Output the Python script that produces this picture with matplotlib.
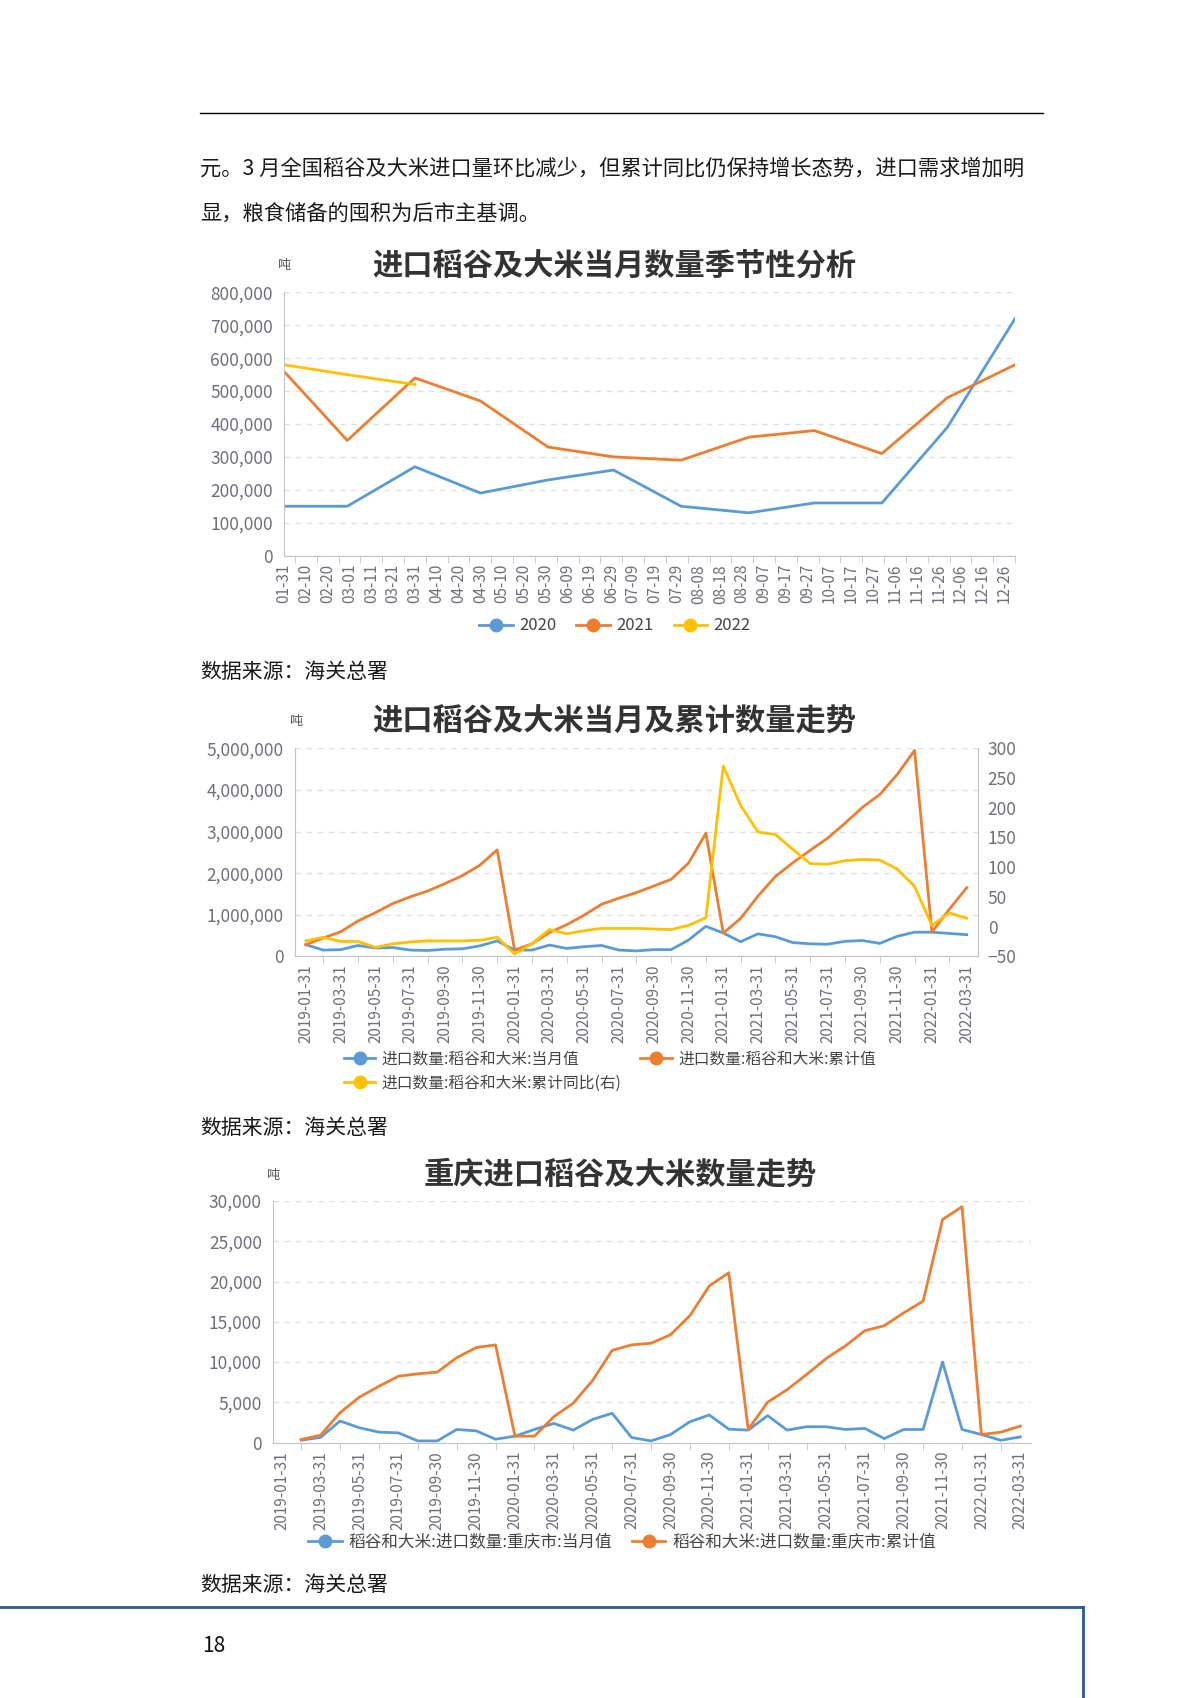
import numpy as np
import pandas as pd
import matplotlib
matplotlib.use('Agg')
import matplotlib.pyplot as plt
import matplotlib.dates as mdates
from matplotlib.lines import Line2D
from matplotlib.ticker import FuncFormatter, MultipleLocator

plt.rcParams['font.family'] = ['Noto Sans CJK SC', 'DejaVu Sans']

W, H = 1200, 1698
BLUE, ORANGE, YELLOW = '#5B9BD5', '#ED7D31', '#FFC000'
GRAY_TXT = '#6e7079'
AXIS_C = '#c4c4c4'
GRID_C = '#e0e0e0'

# ---- chart 1: 当月数量季节性 (吨), month-end values
s_2020 = [150000, 150000, 270000, 190000, 230000, 260000, 150000, 130000, 160000, 160000, 390000, 720000]
s_2021 = [560000, 350000, 540000, 470000, 330000, 300000, 290000, 360000, 380000, 310000, 480000, 580000]
s_2022 = [580000, 550000, 520000]
season_names = ['2020', '2021', '2022']

# ---- chart 2: 全国 当月 / 累计 / 累计同比
nat_month = [280000, 150000, 160000, 260000, 200000, 210000, 150000, 140000, 170000, 180000, 250000, 370000,
             150000, 150000, 270000, 190000, 230000, 260000, 150000, 130000, 160000, 160000, 390000, 720000,
             560000, 350000, 540000, 470000, 330000, 300000, 290000, 360000, 380000, 310000, 480000, 580000,
             580000, 550000, 520000]
nat_cum = [280000, 440000, 590000, 850000, 1050000, 1270000, 1430000, 1570000, 1750000, 1940000, 2190000, 2560000,
           150000, 300000, 570000, 760000, 990000, 1250000, 1400000, 1530000, 1690000, 1850000, 2240000, 2960000,
           560000, 910000, 1450000, 1920000, 2250000, 2550000, 2840000, 3200000, 3580000, 3890000, 4370000, 4950000,
           580000, 1130000, 1650000]
nat_yoy = [-24, -18, -25, -25, -35, -29, -26, -24, -24, -24, -23, -18,
           -46, -29, -5, -12, -7, -3, -3, -3, -4, -5, 2, 15,
           270, 204, 159, 155, 130, 106, 105, 111, 113, 112, 97, 68,
           2, 23, 14]
nat_names = ['进口数量:稻谷和大米:当月值', '进口数量:稻谷和大米:累计值', '进口数量:稻谷和大米:累计同比(右)']

# ---- chart 3: 重庆 当月 / 累计
cq_month = [np.nan, 300, 650, 2680, 1840, 1300, 1210, 210, 210, 1630, 1460, 420,
            800, 1630, 2380, 1550, 2890, 3640, 630, 210, 1000, 2590, 3430, 1670,
            1550, 3350, 1550, 1970, 1970, 1630, 1760, 500, 1630, 1630, 10000, 1630,
            1000, 290, 710]
cq_cum = [np.nan, 380, 920, 3720, 5650, 6990, 8240, 8540, 8750, 10540, 11800, 12130,
          800, 800, 3220, 4900, 7740, 11460, 12130, 12340, 13390, 15770, 19460, 21090,
          1630, 5020, 6570, 8450, 10420, 12010, 13890, 14520, 16110, 17570, 27700, 29290,
          1000, 1300, 2050]
cq_names = ['稻谷和大米:进口数量:重庆市:当月值', '稻谷和大米:进口数量:重庆市:累计值']

months = pd.date_range('2019-01-31', periods=39, freq=pd.offsets.MonthEnd())
month_labels = [d.strftime('%Y-%m-%d') for d in months]

fig = plt.figure(figsize=(W / 100, H / 100), dpi=100)


def add_ax(x0, y0, x1, y1):
    return fig.add_axes([x0 / W, 1 - y1 / H, (x1 - x0) / W, (y1 - y0) / H])


def ftext(x, y, s, **kw):
    fig.text(x / W, 1 - y / H, s, **kw)


def hline(x0, x1, y, **kw):
    fig.add_artist(Line2D([x0 / W, x1 / W], [1 - y / H, 1 - y / H], **kw))


def style(ax):
    for s in ['top', 'right']:
        ax.spines[s].set_visible(False)
    ax.spines['left'].set_color(AXIS_C)
    ax.spines['bottom'].set_color(AXIS_C)
    ax.yaxis.grid(True, ls=(0, (4, 4)), color=GRID_C, lw=1)
    ax.set_axisbelow(True)
    ax.yaxis.set_major_formatter(FuncFormatter(lambda v, p: f'{v:,.0f}'))
    ax.tick_params(axis='y', length=0, pad=8, labelsize=12.5, labelcolor=GRAY_TXT)
    ax.tick_params(axis='x', which='major', length=0, pad=6, labelsize=11, labelcolor=GRAY_TXT)
    ax.tick_params(axis='x', which='minor', length=5, color=AXIS_C)


def legend(handles, labels, cx, cy, ncol, fs=12):
    fig.legend(handles, labels, loc='center', bbox_to_anchor=(cx / W, 1 - cy / H), ncol=ncol,
               frameon=False, fontsize=fs, labelcolor='#444444', handlelength=2.0,
               handletextpad=0.4, columnspacing=1.2, labelspacing=0.45)


def handle(c):
    return Line2D([], [], color=c, lw=2, marker='o', markersize=9)


# page header / body text
hline(200, 1043, 112.6, color='black', lw=1)
ftext(200, 169, '元。3 月全国稻谷及大米进口量环比减少，但累计同比仍保持增长态势，进口需求增加明',
      fontsize=15.3, color='#1a1a1a', va='center')
ftext(200, 214.5, '显，粮食储备的囤积为后市主基调。', fontsize=15.3, color='#1a1a1a', va='center')

# ---------------- chart 1
ax1 = add_ax(284, 292.4, 1015, 555.6)
d1 = mdates.date2num(pd.date_range('2020-01-31', periods=12, freq=pd.offsets.MonthEnd()).to_pydatetime())
ax1.plot(d1, s_2020, color=BLUE, lw=2)
ax1.plot(d1, s_2021, color=ORANGE, lw=2)
ax1.plot(d1[:len(s_2022)], s_2022, color=YELLOW, lw=2)
ticks1 = pd.date_range('2020-01-31', periods=34, freq='10D')
t1 = mdates.date2num(ticks1.to_pydatetime())
ax1.set_xlim(d1[0], d1[-1])
ax1.set_ylim(0, 800000)
ax1.yaxis.set_major_locator(MultipleLocator(100000))
ax1.set_xticks(t1)
ax1.set_xticklabels([d.strftime('%m-%d') for d in ticks1], rotation=90)
ax1.set_xticks(t1 + 5, minor=True)
style(ax1)
ftext(614, 266, '进口稻谷及大米当月数量季节性分析', fontsize=21.8, fontweight='bold', color='#333333',
      ha='center', va='center')
ftext(284, 266, '吨', fontsize=9.5, color='#555555', ha='center', va='center')
legend([handle(BLUE), handle(ORANGE), handle(YELLOW)], season_names, 615, 626, 3, fs=12)
ftext(200, 671.5, '数据来源：海关总署', fontsize=15, color='#1a1a1a', va='center')

# ---------------- chart 2
x = np.arange(len(months))
ax2 = add_ax(294.6, 748.4, 978, 956.3)
ax2.plot(x, nat_month, color=BLUE, lw=2)
ax2.plot(x, nat_cum, color=ORANGE, lw=2)
ax2.set_xlim(-0.65, len(months) - 0.35)
ax2.set_ylim(0, 5000000)
ax2.yaxis.set_major_locator(MultipleLocator(1000000))
ax2.set_xticks(x[::2])
ax2.set_xticklabels(month_labels[::2], rotation=90)
ax2.set_xticks(x[1::2], minor=True)
style(ax2)
ax2r = ax2.twinx()
ax2r.plot(x, nat_yoy, color=YELLOW, lw=2)
ax2r.set_ylim(-50, 300)
ax2r.yaxis.set_major_locator(MultipleLocator(50))
for s in ['top', 'left', 'bottom']:
    ax2r.spines[s].set_visible(False)
ax2r.spines['right'].set_color(AXIS_C)
ax2r.tick_params(axis='y', length=0, pad=7, labelsize=12.5, labelcolor=GRAY_TXT)
ftext(614, 722, '进口稻谷及大米当月及累计数量走势', fontsize=21.8, fontweight='bold', color='#333333',
      ha='center', va='center')
ftext(296, 722, '吨', fontsize=9.5, color='#555555', ha='center', va='center')
legend([handle(BLUE), handle(YELLOW), handle(ORANGE)], [nat_names[0], nat_names[2], nat_names[1]],
       610, 1071, 2, fs=11.3)
ftext(200, 1127.5, '数据来源：海关总署', fontsize=15, color='#1a1a1a', va='center')

# ---------------- chart 3
ax3 = add_ax(273, 1201, 1031, 1442.6)
ax3.plot(x, cq_month, color=BLUE, lw=2)
ax3.plot(x, cq_cum, color=ORANGE, lw=2)
ax3.set_xlim(-0.45, len(months) - 0.45)
ax3.set_ylim(0, 30000)
ax3.yaxis.set_major_locator(MultipleLocator(5000))
ax3.set_xticks(x[::2])
ax3.set_xticklabels(month_labels[::2], rotation=90)
ax3.set_xticks(x[1::2], minor=True)
style(ax3)
ftext(620, 1175, '重庆进口稻谷及大米数量走势', fontsize=21.8, fontweight='bold', color='#333333',
      ha='center', va='center')
ftext(273, 1175, '吨', fontsize=9.5, color='#555555', ha='center', va='center')
legend([handle(BLUE), handle(ORANGE)], cq_names, 622, 1542, 2, fs=12)
ftext(200, 1584.5, '数据来源：海关总署', fontsize=15, color='#1a1a1a', va='center')

# ---------------- footer
FOOT = '#2b5797'
hline(0, 1083, 1607.3, color=FOOT, lw=2)
fig.add_artist(Line2D([1083 / W, 1083 / W], [1 - 1607.3 / H, 0], color=FOOT, lw=2))
ftext(202, 1646, '18', fontsize=15, color='#111111', va='center')

fig.savefig('out.png', dpi=100)
